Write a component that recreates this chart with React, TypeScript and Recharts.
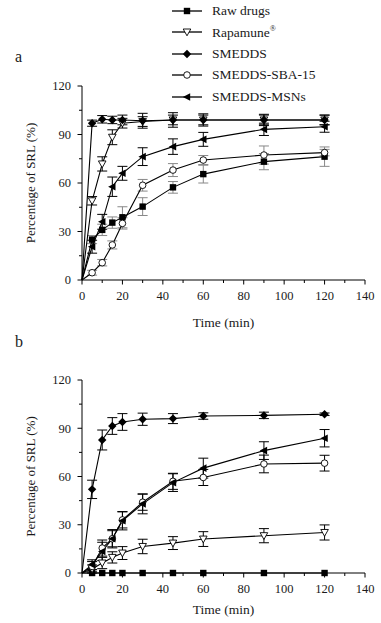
import React from "react";
import { LineChart, Line, XAxis, YAxis, ErrorBar, Legend } from "recharts";

// sampling times (min)
const TIME = [0, 5, 10, 15, 20, 30, 45, 60, 90, 120];
const X_TICKS = [0, 10, 20, 30, 40, 50, 60, 70, 80, 90, 100, 110, 120, 130, 140];
const Y_TICKS = [0, 15, 30, 45, 60, 75, 90, 105, 120];

// panel a
const A_RAW = [0, 25, 31, 35.5, 38.8, 45.4, 57.3, 65.5, 73.2, 76.3];
const A_RAW_ERR = [0, 2.5, 3.5, 3.5, 6.5, 5.5, 3.6, 5.5, 5, 6];
const A_RAP = [0, 49, 71.8, 88.3, 97, 98, 99, 99, 99, 99];
const A_RAP_ERR = [0, 2.6, 4.4, 4.6, 3, 3, 3, 3, 3, 3];
const A_SME = [0, 97, 99.4, 99, 99, 98.5, 99, 99, 99, 99];
const A_SME_ERR = [0, 1.9, 2.3, 2.3, 3, 4.6, 4.5, 3.8, 3.5, 3];
const A_SBA = [0, 4.5, 10.7, 21.7, 35, 58.6, 68, 74.2, 77.3, 78.8];
const A_SBA_ERR = [0, 1.5, 2, 2.5, 3.5, 3.6, 4, 2.8, 5.6, 2];
const A_MSN = [0, 20.6, 36, 57.7, 66, 76.3, 82.5, 87, 93.2, 94.8];
const A_MSN_ERR = [0, 4, 4.6, 6, 4.3, 5.5, 4.8, 4.3, 3.8, 3.4];

// panel b
const B_RAW = [0, 0, 0, 0, 0, 0, 0, 0, 0, 0];
const B_RAW_ERR = [0, 0, 0, 0, 0, 0, 0, 0, 0, 0];
const B_RAP = [0, 2.5, 6.2, 9.7, 12.4, 16.5, 18.6, 21.1, 23.2, 25.2];
const B_RAP_ERR = [0, 2.5, 3.5, 3.5, 4, 4.5, 4, 4.6, 4.4, 4.7];
const B_SME = [0, 52, 82.7, 91.4, 93.9, 95.6, 96, 97.6, 98, 98.7];
const B_SME_ERR = [0, 5.7, 6.2, 5.2, 5.2, 3.8, 3.1, 2, 2, 0.8];
const B_SBA = [0, 4.1, 15.5, 21.3, 33, 44, 57, 59.4, 67.8, 68.3];
const B_SBA_ERR = [0, 3, 5, 5, 5, 5, 5, 5, 5.5, 4.9];
const B_MSN = [0, 5.2, 13.4, 21.3, 32.5, 43, 56.2, 65.2, 76.1, 83.8];
const B_MSN_ERR = [0, 3, 5.7, 5.7, 5.7, 6.2, 5.5, 6.2, 5.5, 5.4];

const SERIES = [
  { key: "raw", name: "Raw drugs", shape: "square" },
  { key: "rap", name: "Rapamune", shape: "triDown" },
  { key: "sme", name: "SMEDDS", shape: "diamond" },
  { key: "sba", name: "SMEDDS-SBA-15", shape: "circle" },
  { key: "msn", name: "SMEDDS-MSNs", shape: "triLeft" },
];

const FONT = '"Liberation Serif", "Times New Roman", serif';
const INK = "#1a1a1a";

function buildRows(vals: Record<string, number[]>) {
  return TIME.map((t, i) => {
    const row: Record<string, number> = { t };
    Object.keys(vals).forEach((k) => (row[k] = vals[k][i]));
    return row;
  });
}

const dataA = buildRows({
  raw: A_RAW, rawErr: A_RAW_ERR, rap: A_RAP, rapErr: A_RAP_ERR,
  sme: A_SME, smeErr: A_SME_ERR, sba: A_SBA, sbaErr: A_SBA_ERR,
  msn: A_MSN, msnErr: A_MSN_ERR,
});
const dataB = buildRows({
  raw: B_RAW, rawErr: B_RAW_ERR, rap: B_RAP, rapErr: B_RAP_ERR,
  sme: B_SME, smeErr: B_SME_ERR, sba: B_SBA, sbaErr: B_SBA_ERR,
  msn: B_MSN, msnErr: B_MSN_ERR,
});

function Marker({ shape, cx, cy }: { shape: string; cx: number; cy: number }) {
  const s = 3.2;
  switch (shape) {
    case "square":
      return <rect x={cx - s} y={cy - s} width={s * 2} height={s * 2} fill="#000" />;
    case "triDown":
      return (
        <polygon
          points={`${cx - 3.8},${cy - 3} ${cx + 3.8},${cy - 3} ${cx},${cy + 3.8}`}
          fill="#fff"
          stroke="#000"
          strokeWidth={0.9}
        />
      );
    case "diamond":
      return (
        <polygon
          points={`${cx},${cy - 4.2} ${cx + 4.2},${cy} ${cx},${cy + 4.2} ${cx - 4.2},${cy}`}
          fill="#000"
        />
      );
    case "circle":
      return <circle cx={cx} cy={cy} r={3.3} fill="#fff" stroke="#000" strokeWidth={0.9} />;
    case "triLeft":
      return (
        <polygon
          points={`${cx - 4.2},${cy} ${cx + 3.2},${cy - 3.8} ${cx + 3.2},${cy + 3.8}`}
          fill="#000"
        />
      );
    default:
      return null;
  }
}

const makeDot = (shape: string) => (props: any) => {
  const { cx, cy, index } = props;
  if (index === 0 || cx == null || cy == null) return <g key={`d${index}`} />;
  return (
    <g key={`d${index}`}>
      <Marker shape={shape} cx={cx} cy={cy} />
    </g>
  );
};

function XTick(props: any) {
  const { x, y, payload } = props;
  const major = payload.value % 20 === 0;
  return (
    <g>
      <line x1={x} x2={x} y1={y} y2={y + (major ? 4.5 : 3)} stroke="#000" />
      {major && (
        <text x={x} y={y + 19.5} textAnchor="middle" fontSize={12.5} fontFamily={FONT} fill={INK}>
          {payload.value}
        </text>
      )}
    </g>
  );
}

function YTick(props: any) {
  const { x, y, payload } = props;
  const major = payload.value % 30 === 0;
  return (
    <g>
      <line x1={x} x2={x - (major ? 4.5 : 3)} y1={y} y2={y} stroke="#000" />
      {major && (
        <text x={x - 11} y={y + 4.3} textAnchor="end" fontSize={12.5} fontFamily={FONT} fill={INK}>
          {payload.value}
        </text>
      )}
    </g>
  );
}

function LegendBox() {
  return (
    <div style={{ fontFamily: FONT, fontSize: 13.5, color: INK }}>
      {SERIES.map((s) => (
        <div key={s.key} style={{ display: "flex", alignItems: "center", height: 21.5 }}>
          <svg width={44} height={12} style={{ flex: "none" }}>
            <line x1={4} x2={34} y1={6} y2={6} stroke="#000" strokeWidth={1.3} />
            <Marker shape={s.shape} cx={19} cy={6} />
          </svg>
          <span style={{ whiteSpace: "nowrap" }}>
            {s.name}
            {s.key === "rap" && <sup style={{ fontSize: 8 }}>®</sup>}
          </span>
        </div>
      ))}
    </div>
  );
}

function Panel({
  data,
  height,
  top,
  plotBottom,
  xHeight,
  greyErr,
  withLegend,
}: {
  data: Record<string, number>[];
  height: number;
  top: number;
  plotBottom: number;
  xHeight: number;
  greyErr: string[];
  withLegend?: boolean;
}) {
  return (
    <LineChart
      width={381}
      height={height}
      data={data}
      margin={{ top, right: 16, bottom: height - plotBottom - xHeight, left: 0 }}
    >
      <XAxis
        type="number"
        dataKey="t"
        domain={[0, 140]}
        ticks={X_TICKS}
        interval={0}
        height={xHeight}
        tickSize={0}
        tickMargin={0}
        tickLine={false}
        tick={<XTick />}
        axisLine={{ stroke: "#000", strokeWidth: 1 }}
        label={{
          value: "Time (min)",
          position: "bottom",
          offset: 0,
          style: { fontFamily: FONT, fontSize: 13.5, fill: INK },
        }}
      />
      <YAxis
        type="number"
        domain={[0, 120]}
        ticks={Y_TICKS}
        interval={0}
        width={82}
        tickSize={0}
        tickMargin={0}
        tickLine={false}
        tick={<YTick />}
        axisLine={{ stroke: "#000", strokeWidth: 1 }}
        label={{
          value: "Percentage of SRL (%)",
          angle: -90,
          position: "insideLeft",
          offset: 30,
          style: { fontFamily: FONT, fontSize: 13, fill: INK, textAnchor: "middle" },
        }}
      />
      {withLegend && (
        <Legend
          layout="vertical"
          align="center"
          verticalAlign="middle"
          content={<LegendBox />}
          wrapperStyle={{ top: 0, left: 168, width: 210 }}
        />
      )}
      {SERIES.map((s) => (
        <Line
          key={s.key}
          dataKey={s.key}
          name={s.name}
          stroke="#000"
          strokeWidth={1.1}
          dot={makeDot(s.shape)}
          activeDot={false}
          isAnimationActive={false}
        >
          <ErrorBar
            dataKey={`${s.key}Err`}
            direction="y"
            width={5}
            strokeWidth={1}
            stroke={greyErr.includes(s.key) ? "#888" : "#000"}
          />
        </Line>
      ))}
    </LineChart>
  );
}

export default function App() {
  // plot a: y 86..280, plot b: y 380..573
  return (
    <div
      style={{
        position: "absolute",
        left: 0,
        top: 0,
        width: 381,
        height: 623,
        overflow: "hidden",
        background: "#fff",
        fontFamily: FONT,
      }}
    >
      <div style={{ position: "absolute", left: 15, top: 48, fontSize: 16, color: INK }}>a</div>
      <div style={{ position: "absolute", left: 15, top: 333, fontSize: 16, color: INK }}>b</div>
      <div style={{ position: "absolute", left: 0, top: 0 }}>
        <Panel data={dataA} height={340} top={86} plotBottom={280} xHeight={37} greyErr={["sba", "raw"]} withLegend />
      </div>
      <div style={{ position: "absolute", left: 0, top: 300 }}>
        <Panel data={dataB} height={322} top={80} plotBottom={273} xHeight={31} greyErr={[]} />
      </div>
    </div>
  );
}
